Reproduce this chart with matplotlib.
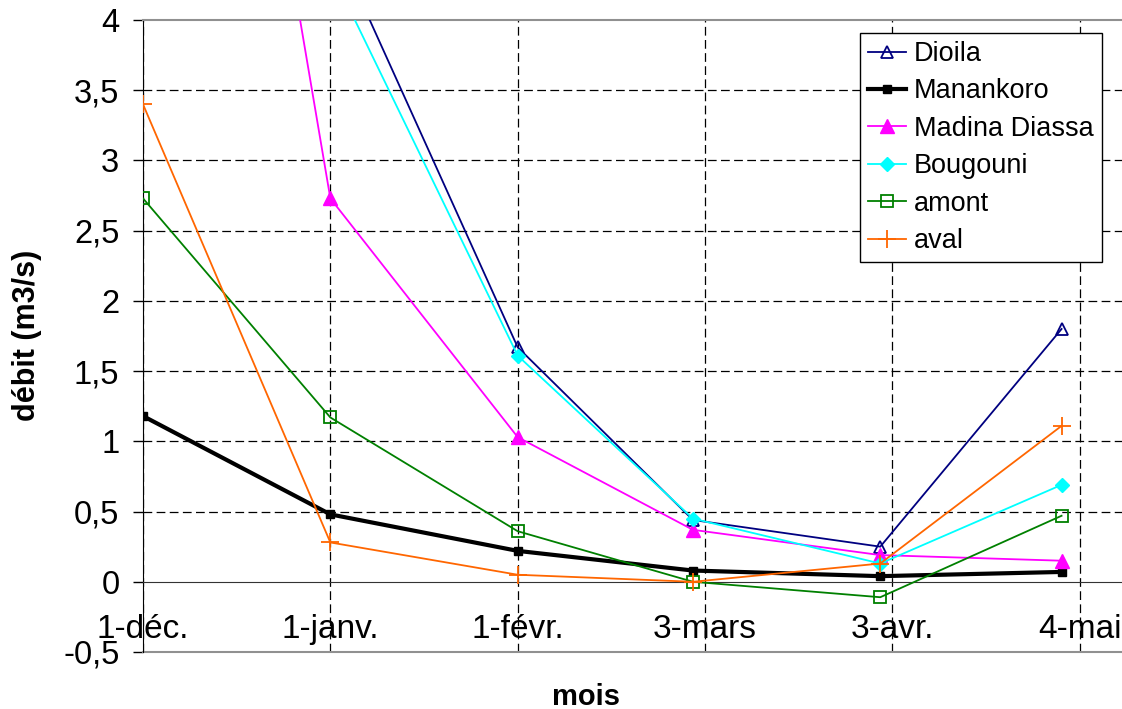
import numpy as np
import matplotlib
matplotlib.use('Agg')
import matplotlib.pyplot as plt
from matplotlib.ticker import MultipleLocator, FuncFormatter
from datetime import date, timedelta

plt.rcParams['font.family'] = ['Liberation Sans', 'DejaVu Sans']

# relevés (débit en m3/s)
dates = [date(2003, 12, 1), date(2004, 1, 1), date(2004, 2, 1),
         date(2004, 3, 1), date(2004, 4, 1), date(2004, 5, 1)]
dioila = [np.nan, 4.62, 1.67, 0.44, 0.25, 1.80]
manankoro = [1.18, 0.48, 0.22, 0.08, 0.04, 0.07]
madina = [10.6, 2.73, 1.03, 0.37, 0.19, 0.15]
bougouni = [np.nan, 4.36, 1.61, 0.45, 0.13, 0.69]
amont = [2.73, 1.17, 0.36, 0.00, -0.11, 0.47]
aval = [3.40, 0.28, 0.05, 0.00, 0.13, 1.11]

tick_dates = [date(2003, 12, 1), date(2004, 1, 1), date(2004, 2, 1),
              date(2004, 3, 3), date(2004, 4, 3), date(2004, 5, 4)]
tick_labels = ['1-déc.', '1-janv.', '1-févr.', '3-mars', '3-avr.', '4-mai']

fig = plt.figure(figsize=(11.22, 7.09), dpi=100)
ax = fig.add_axes([143/1122, 1-652/709, 1-143/1122, 632/709])

thin = 1.3
ax.plot(dates, dioila, color='#000080', lw=thin, marker='^', ms=8,
        mfc='none', mec='#000080', mew=1.3, label='Dioila', zorder=5)
ax.plot(dates, manankoro, color='black', lw=3, marker='s', ms=6,
        label='Manankoro', zorder=5)
ax.plot(dates, madina, color='#ff00ff', lw=thin, marker='^', ms=10,
        label='Madina Diassa', zorder=5)
ax.plot(dates, bougouni, color='#00ffff', lw=thin, marker='D', ms=7,
        label='Bougouni', zorder=5)
ax.plot(dates, amont, color='#008000', lw=thin, marker='s', ms=8,
        mfc='none', mec='#008000', mew=1.3, label='amont', zorder=5)
ax.plot(dates, aval, color='#ff6600', lw=thin, marker='+', ms=13,
        mew=1.3, label='aval', zorder=5)

x0 = date(2003, 12, 1)
ax.set_xlim(x0, x0 + timedelta(days=162.5))
ax.set_ylim(-0.5, 4)
ax.set_xticks(tick_dates)
ax.set_xticklabels(tick_labels)
ax.yaxis.set_major_locator(MultipleLocator(0.5))
ax.yaxis.set_major_formatter(FuncFormatter(lambda v, p: ('%g' % v).replace('.', ',')))

ax.tick_params(axis='x', length=0, pad=23, labelsize=24)
ax.tick_params(axis='y', direction='out', length=7, width=1, pad=10, labelsize=23.5)

dash = (0, (7, 3.5))
ax.grid(True, color='black', lw=0.9, linestyle=dash)
for v, gl in zip(ax.get_yticks(), ax.yaxis.get_gridlines()):
    if abs(v) < 1e-9 or abs(v - 4) < 1e-9 or abs(v + 0.5) < 1e-9:
        gl.set_visible(False)
ax.set_axisbelow(True)

ax.spines['right'].set_visible(False)
ax.spines['left'].set_color('black')
ax.spines['bottom'].set_position(('data', 0))
ax.spines['bottom'].set_color('#333333')
ax.spines['top'].set_color('#909090')
ax.spines['top'].set_linewidth(1.5)
ax.axhline(-0.5, color='#909090', lw=1.5, clip_on=False)

fig.text(27/1122, 1-335/709, 'débit (m3/s)', rotation=90, fontsize=22,
         fontweight='bold', ha='center', va='center')
fig.text(586/1122, 1-697/709, 'mois', fontsize=21, fontweight='bold',
         ha='center', va='center')

leg = ax.legend(loc='upper left', bbox_to_anchor=(860/1122, 1-33/709),
                bbox_transform=fig.transFigure, fontsize=19.5, frameon=True,
                fancybox=False, edgecolor='black', framealpha=1,
                handlelength=1.4, handletextpad=0.3, labelspacing=0.42,
                borderpad=0.3, borderaxespad=0)
leg.get_frame().set_linewidth(1.0)

fig.savefig('out.png', dpi=100)
